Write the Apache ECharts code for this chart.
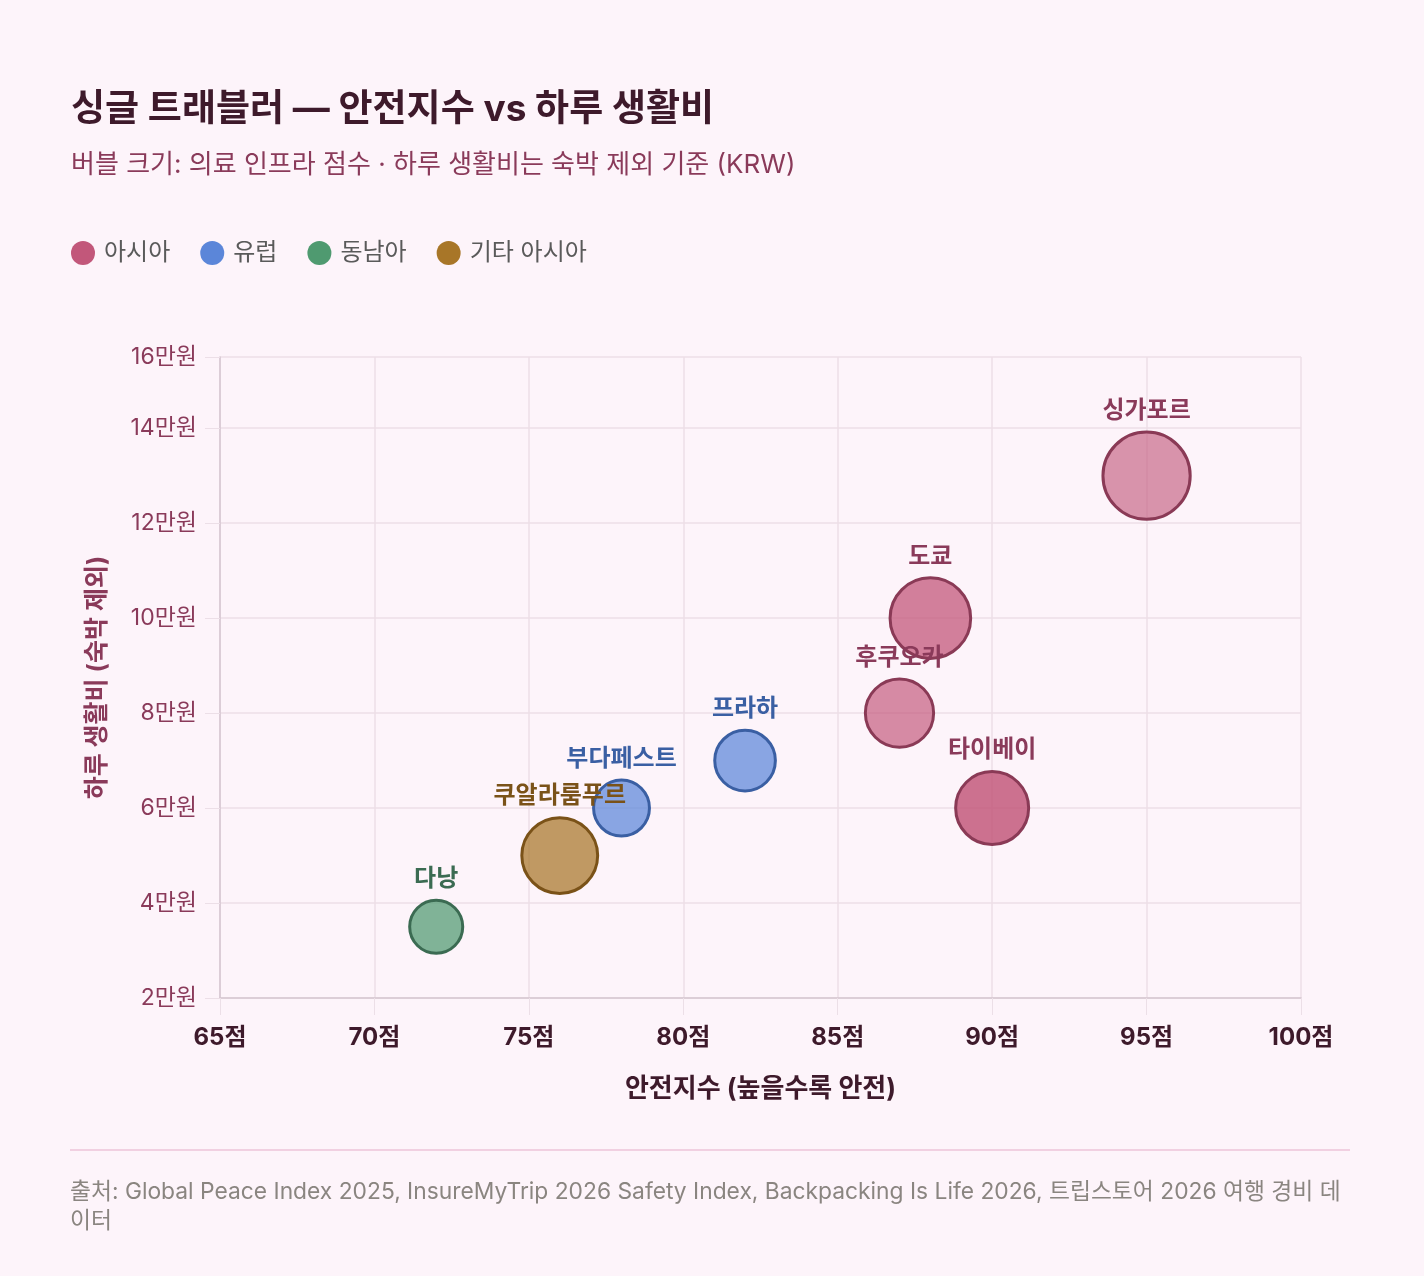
<!DOCTYPE html>
<html>
<head>
<meta charset="utf-8">
<script src="https://cdn.jsdelivr.net/npm/echarts@6/dist/echarts.min.js"></script>
<style>
html, body { margin: 0; padding: 0; background: #fdf4fa; }
#chart { width: 1424px; height: 1276px; }
</style>
</head>
<body>
<div id="chart"></div>
<script>
// 도시별 데이터
const cities = ['싱가포르', '도쿄', '후쿠오카', '타이베이', '프라하', '부다페스트', '쿠알라룸푸르', '다낭'];
const regions = ['아시아', '아시아', '아시아', '아시아', '유럽', '유럽', '기타 아시아', '동남아'];
const safety = [95, 88, 87, 90, 82, 78, 76, 72];
const dailyCost = [130000, 100000, 80000, 60000, 70000, 60000, 50000, 35000];
const medical = [95, 88, 75, 80, 67, 62, 83, 59];
const regionOrder = ['아시아', '유럽', '동남아', '기타 아시아'];
const xTicks = [65, 70, 75, 80, 85, 90, 95, 100];

const palette = {
    '아시아': { rgb: '194,87,122', line: '#8a3a56', label: '#8a3a5a' },
    '유럽': { rgb: '91,134,217', line: '#3a5fa3', label: '#3a5fa3' },
    '동남아': { rgb: '79,154,112', line: '#3b6b52', label: '#3b6b52' },
    '기타 아시아': { rgb: '168,118,40', line: '#7a5218', label: '#7a5218' }
};
const fillAlpha = { '싱가포르': 0.62, '도쿄': 0.74, '후쿠오카': 0.68, '타이베이': 0.84 };

var myChart = echarts.init(document.getElementById('chart'));
var font = 'Inter, "Noto Sans CJK KR", sans-serif';

var series = regionOrder.map(function (reg) {
    var p = palette[reg];
    var data = [];
    for (var i = 0; i < cities.length; i++) {
        if (regions[i] !== reg) continue;
        var a = fillAlpha[cities[i]] || 0.72;
        data.push({
            name: cities[i],
            value: [safety[i], dailyCost[i], medical[i]],
            itemStyle: { color: 'rgba(' + p.rgb + ',' + a + ')' }
        });
    }
    return {
        name: reg,
        type: 'scatter',
        data: data,
        symbolSize: function (v) { return v[2] * 0.95 - 3; },
        itemStyle: {
            color: 'rgba(' + p.rgb + ',0.72)',
            borderColor: p.line,
            borderWidth: 3,
            opacity: 1
        },
        label: {
            show: true,
            position: 'top',
            distance: 8,
            formatter: '{b}',
            color: p.label,
            fontFamily: font,
            fontSize: 24,
            fontWeight: 'bold'
        },
        emphasis: { disabled: true }
    };
});

var option = {
    backgroundColor: '#fdf4fa',
    animation: false,
    title: {
        text: '싱글 트래블러 — 안전지수 vs 하루 생활비',
        subtext: '버블 크기: 의료 인프라 점수 · 하루 생활비는 숙박 제외 기준 (KRW)',
        left: 66,
        top: 86,
        itemGap: 24,
        textStyle: { fontFamily: font, fontSize: 37, fontWeight: 'bold', color: '#3e1a2b' },
        subtextStyle: { fontFamily: font, fontSize: 26, color: '#8a3a5a' }
    },
    legend: {
        left: 66,
        top: 236,
        icon: 'circle',
        itemWidth: 24,
        itemHeight: 24,
        itemGap: 30,
        textStyle: { fontFamily: font, fontSize: 24, color: '#5a5a5a', padding: [0, 0, 0, 4] },
        itemStyle: { borderWidth: 0, opacity: 1 },
        data: regionOrder.map(function (reg) {
            return { name: reg, itemStyle: { color: 'rgb(' + palette[reg].rgb + ')', borderWidth: 0, opacity: 1 } };
        })
    },
    grid: { left: 220, right: 123, top: 357, bottom: 278 },
    xAxis: {
        type: 'value',
        min: xTicks[0],
        max: xTicks[xTicks.length - 1],
        interval: 5,
        name: '안전지수 (높을수록 안전)',
        nameLocation: 'middle',
        nameGap: 78,
        nameTextStyle: { fontFamily: font, fontSize: 26, fontWeight: 'bold', color: '#3e1a2b' },
        axisLine: { show: true, lineStyle: { color: '#d5c6d0', width: 1.5 } },
        axisTick: { show: true, length: 17, lineStyle: { color: '#ecdfe7' } },
        splitLine: { show: true, lineStyle: { color: '#ecdfe7', width: 1.5 } },
        axisLabel: {
            margin: 28,
            fontFamily: font, fontSize: 24, fontWeight: 'bold', color: '#3e1a2b',
            formatter: function (v) { return v + '점'; }
        }
    },
    yAxis: {
        type: 'value',
        min: 20000,
        max: 155000,
        interval: 20000,
        name: '하루 생활비 (숙박 제외)',
        nameLocation: 'middle',
        nameGap: 110,
        nameTextStyle: { fontFamily: font, fontSize: 25, fontWeight: 'bold', color: '#8a3a5a' },
        axisLine: { show: true, lineStyle: { color: '#d5c6d0', width: 1.5 } },
        axisTick: { show: true, length: 15, lineStyle: { color: '#ecdfe7' } },
        splitLine: { show: true, lineStyle: { color: '#ecdfe7', width: 1.5 } },
        axisLabel: {
            margin: 23,
            fontFamily: font, fontSize: 23, color: '#8a3a5a',
            formatter: function (v) { return Math.round(v / 10000) + '만원'; }
        }
    },
    graphic: [
        {
            type: 'line',
            shape: { x1: 70, y1: 1150, x2: 1350, y2: 1150 },
            style: { stroke: '#ecc4d8', lineWidth: 1.5 }
        },
        {
            type: 'text',
            left: 70,
            top: 1178,
            style: {
                text: '출처: Global Peace Index 2025, InsureMyTrip 2026 Safety Index, Backpacking Is Life 2026, 트립스토어 2026 여행 경비 데\n이터',
                font: '22.8px ' + font,
                fill: '#8a8580',
                lineHeight: 29
            }
        }
    ],
    series: series
};

myChart.setOption(option);
</script>
</body>
</html>
